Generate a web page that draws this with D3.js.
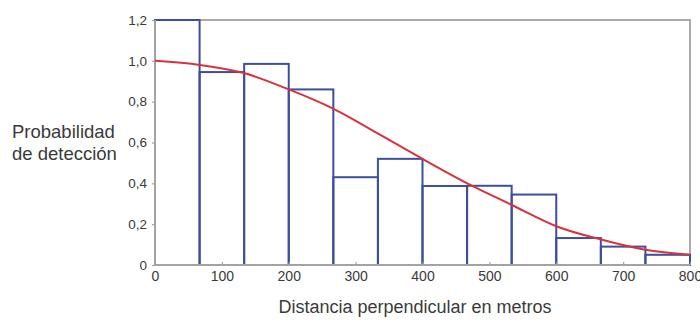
<!DOCTYPE html>
<html>
<head>
<meta charset="utf-8">
<script src="https://cdn.jsdelivr.net/npm/d3@7"></script>
<style>
  html, body { margin: 0; padding: 0; background: #fff; }
  svg { display: block; font-family: "Liberation Sans", Arial, sans-serif; }
</style>
</head>
<body>
<svg id="chart" width="700" height="325"></svg>
<script>
// Histogram of detections per distance bin (bin edges in metres)
const binEdges = [0, 66.67, 133.33, 200, 266.67, 333.33, 400, 466.67, 533.33, 600, 666.67, 733.33, 800];
const binValues = [1.2, 0.945, 0.985, 0.86, 0.43, 0.52, 0.387, 0.388, 0.345, 0.132, 0.09, 0.05];

// Fitted detection function, sampled along the distance axis
const curveDistance = [0, 67, 133, 200, 267, 333, 400, 467, 533, 600, 667, 733, 800];
const curveProb = [1.0, 0.98, 0.94, 0.86, 0.765, 0.645, 0.52, 0.40, 0.295, 0.19, 0.125, 0.075, 0.05];

// Axis ticks
const xTicks = [0, 100, 200, 300, 400, 500, 600, 700, 800];
const yTicks = [0, 0.2, 0.4, 0.6, 0.8, 1.0, 1.2];
const yTickLabels = ["0", "0,2", "0,4", "0,6", "0,8", "1,0", "1,2"];

const margin = { left: 155, right: 10, top: 20, bottom: 60 };
const width = 700, height = 325;
const svg = d3.select("#chart");

const x = d3.scaleLinear().domain([0, 800]).range([margin.left, width - margin.right]);
const y = d3.scaleLinear().domain([0, 1.2]).range([height - margin.bottom, margin.top]);

const frameColor = "#a3a3a3";
const textColor = "#3a3a3a";

// Plot frame
svg.append("rect")
  .attr("x", x(0)).attr("y", y(1.2))
  .attr("width", x(800) - x(0)).attr("height", y(0) - y(1.2))
  .attr("fill", "none").attr("stroke", frameColor).attr("stroke-width", 1.8);

// Histogram bars
const bins = binValues.map((v, i) => ({ x0: binEdges[i], x1: binEdges[i + 1], v }));
svg.append("g").selectAll("rect")
  .data(bins)
  .join("rect")
  .attr("x", d => x(d.x0))
  .attr("y", d => y(d.v))
  .attr("width", d => x(d.x1) - x(d.x0))
  .attr("height", d => y(0) - y(d.v))
  .attr("fill", "none")
  .attr("stroke", "#3d4e9e")
  .attr("stroke-width", 2);

// Axis lines on top of the bar outlines
svg.append("line")
  .attr("x1", x(0)).attr("x2", x(800)).attr("y1", y(0)).attr("y2", y(0))
  .attr("stroke", frameColor).attr("stroke-width", 2);
svg.append("line")
  .attr("x1", x(0)).attr("x2", x(0)).attr("y1", y(0)).attr("y2", y(1.2))
  .attr("stroke", frameColor).attr("stroke-width", 2);

// Y axis
const yAxis = svg.append("g")
  .attr("transform", `translate(${x(0)},0)`)
  .call(d3.axisLeft(y).tickValues(yTicks)
    .tickFormat((d, i) => yTickLabels[i]).tickSize(3).tickPadding(5));
yAxis.select(".domain").remove();
yAxis.selectAll(".tick line").attr("stroke", frameColor).attr("stroke-width", 1.2);
yAxis.selectAll(".tick text")
  .attr("fill", textColor).style("font-size", "13.5px");

// X axis, ticks pointing into the plot
const xAxis = svg.append("g")
  .attr("transform", `translate(0,${y(0)})`)
  .call(d3.axisBottom(x).tickValues(xTicks).tickFormat(d3.format("d"))
    .tickSizeInner(-3).tickSizeOuter(0).tickPadding(6));
xAxis.select(".domain").remove();
xAxis.selectAll(".tick line").attr("stroke", frameColor).attr("stroke-width", 1.2);
xAxis.selectAll(".tick text")
  .attr("fill", textColor).style("font-size", "14px");

// Detection curve
const line = d3.line()
  .x((d, i) => x(curveDistance[i]))
  .y(d => y(d))
  .curve(d3.curveMonotoneX);
svg.append("path")
  .datum(curveProb)
  .attr("d", line)
  .attr("fill", "none")
  .attr("stroke", "#d8323a")
  .attr("stroke-width", 2);

// Axis titles
const yTitle = svg.append("text")
  .attr("x", 12).attr("y", 138)
  .attr("fill", textColor).style("font-size", "18.5px");
yTitle.append("tspan").attr("x", 12).text("Probabilidad");
yTitle.append("tspan").attr("x", 12).attr("dy", 22).text("de detección");

svg.append("text")
  .attr("x", 415).attr("y", 313)
  .attr("text-anchor", "middle")
  .attr("fill", textColor).style("font-size", "18px")
  .text("Distancia perpendicular en metros");
</script>
</body>
</html>
